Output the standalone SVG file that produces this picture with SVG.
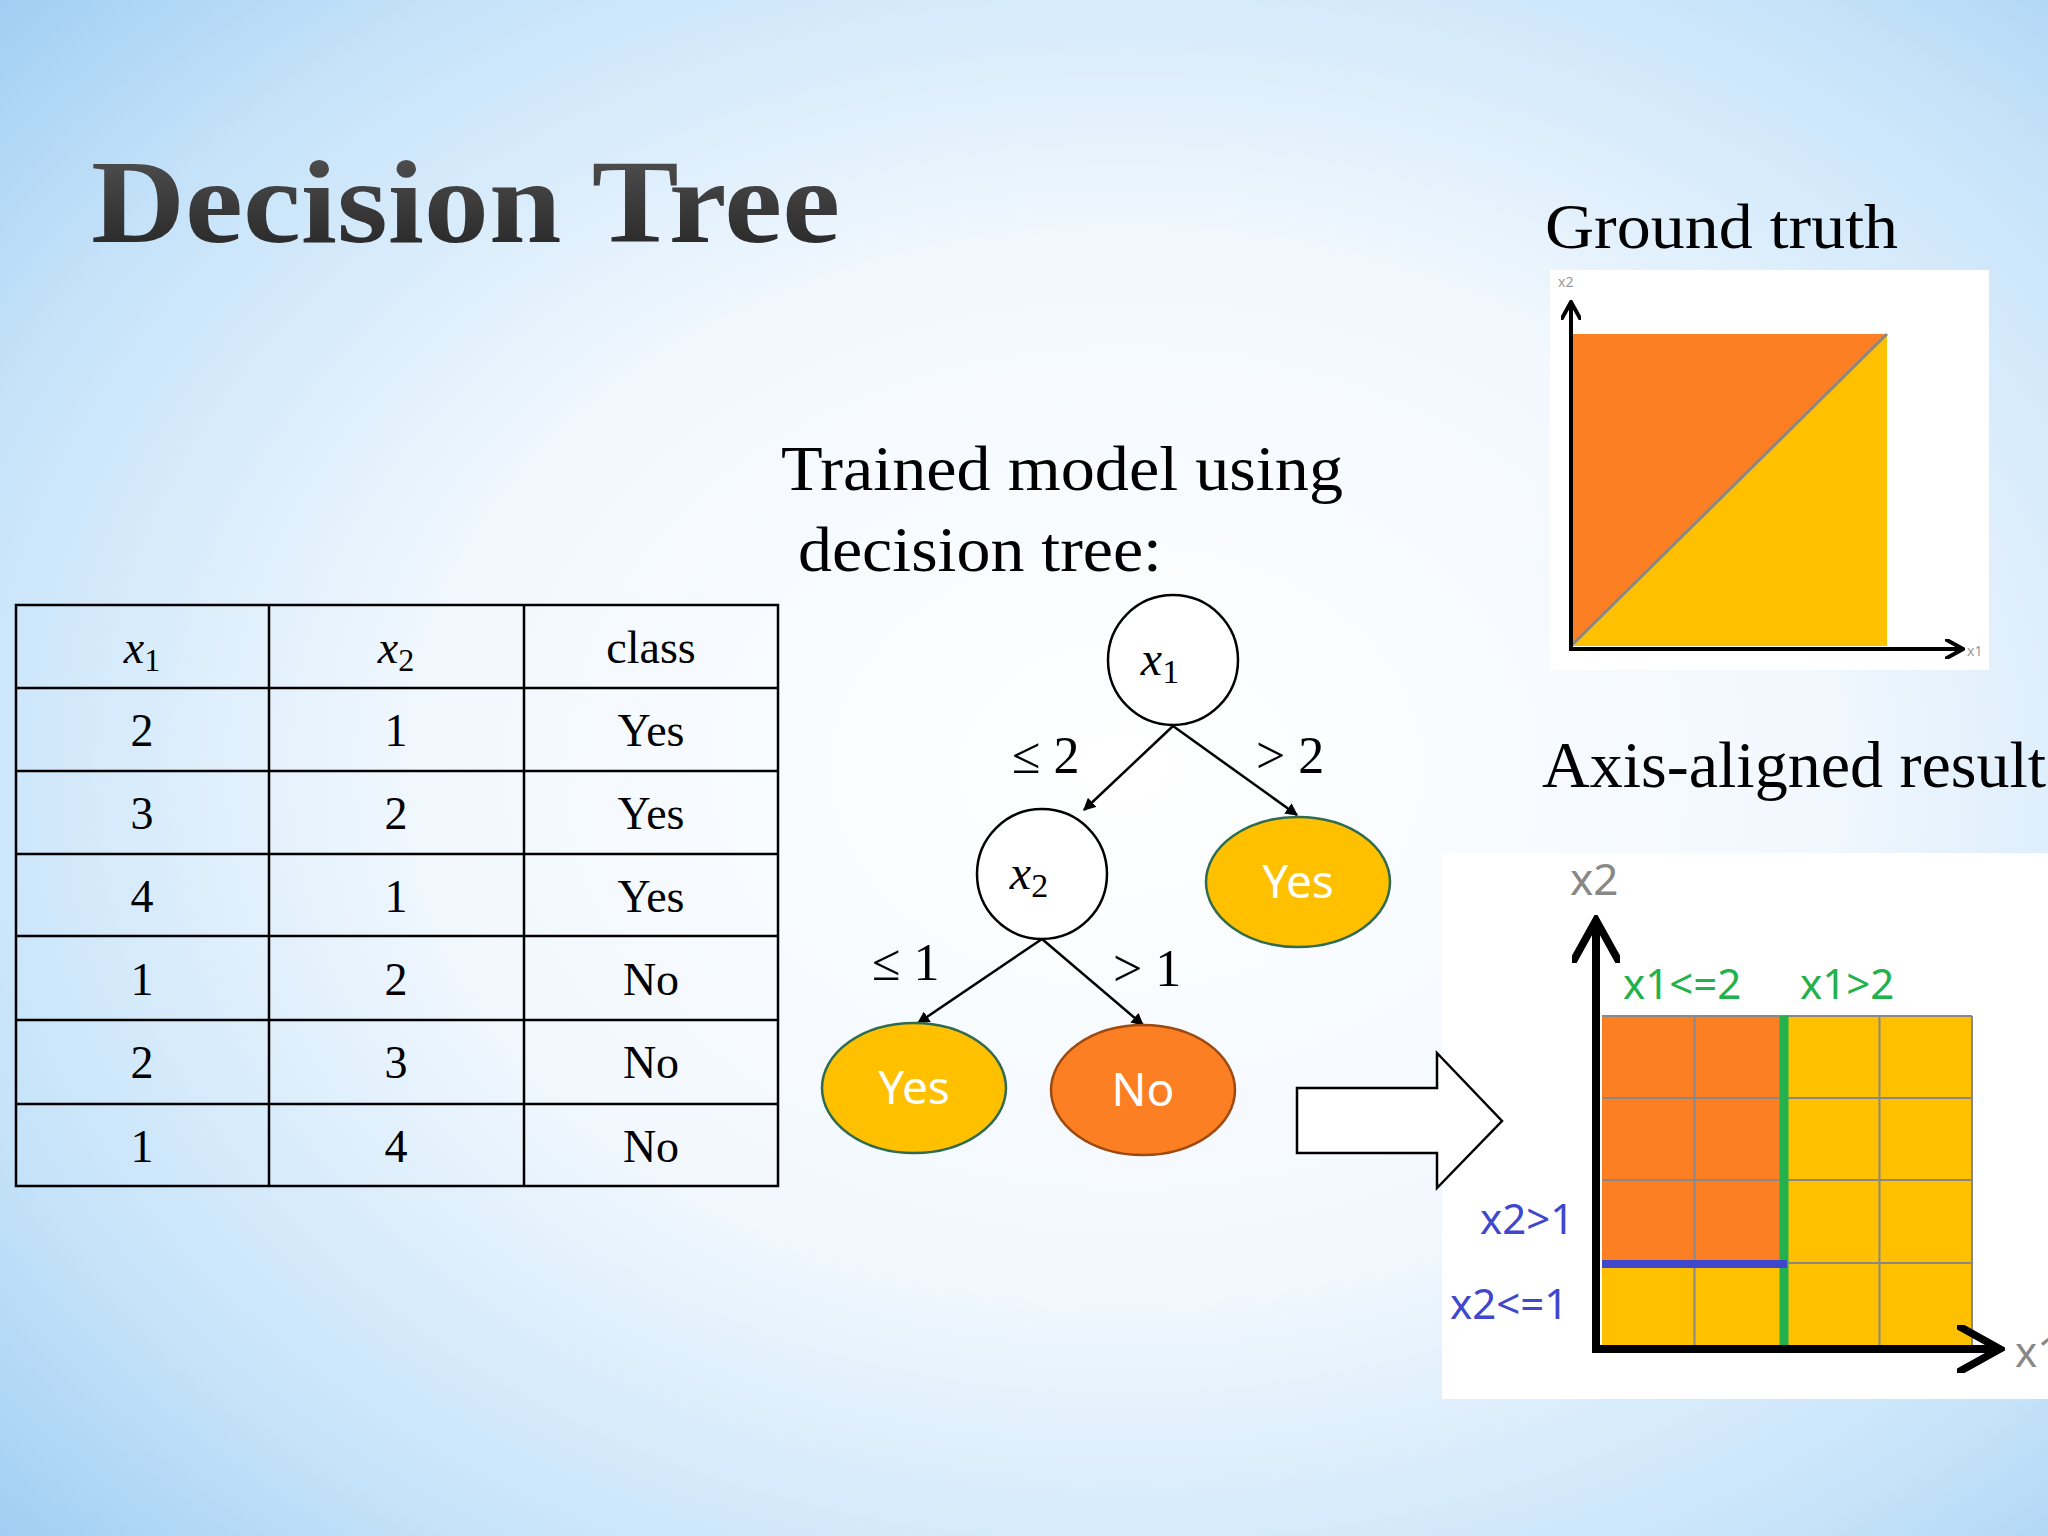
<svg xmlns="http://www.w3.org/2000/svg" width="2048" height="1536" viewBox="0 0 2048 1536">
<defs>
<radialGradient id="bg" cx="0.55" cy="0.5" r="0.75">
<stop offset="0" stop-color="#ffffff"/>
<stop offset="0.45" stop-color="#f2f8fe"/>
<stop offset="0.8" stop-color="#c4e2f9"/>
<stop offset="1" stop-color="#9fcdf2"/>
</radialGradient>
<linearGradient id="tg" x1="0" y1="0" x2="0" y2="1">
<stop offset="0" stop-color="#555"/>
<stop offset="1" stop-color="#222"/>
</linearGradient>
<marker id="ah" viewBox="0 0 10 10" refX="9" refY="5" markerWidth="5" markerHeight="5" orient="auto">
<path d="M0,0 L10,5 L0,10 z" fill="#000"/>
</marker>
<marker id="ax" viewBox="0 0 10 10" refX="8" refY="5" markerWidth="5" markerHeight="5" orient="auto">
<path d="M0,0 L9,5 L0,10" fill="none" stroke="#000" stroke-width="2"/>
</marker>
<marker id="axb" viewBox="0 0 10 10" refX="8" refY="5" markerWidth="6" markerHeight="6" orient="auto">
<path d="M0,0 L9,5 L0,10" fill="none" stroke="#000" stroke-width="1.6"/>
</marker>
</defs>
<style>
.s{font-family:"Liberation Serif","Times New Roman",serif;fill:#000}
.m{font-family:"Liberation Serif",serif;font-style:italic}
.c{font-family:"Noto Sans","Open Sans",sans-serif}
.cell{font-size:46px;text-anchor:middle}
.tl{fill:none;stroke:#000;stroke-width:2.5}
.edge{stroke:#000;stroke-width:2.5;fill:none;marker-end:url(#ah)}
.lbl{font-size:52px}
.leaf{font-size:46px;fill:#fff;text-anchor:middle}
</style>
<rect width="2048" height="1536" fill="url(#bg)"/>
<text x="91" y="242" font-family="Liberation Serif,serif" font-weight="bold" font-size="118" fill="url(#tg)" textLength="749" lengthAdjust="spacingAndGlyphs">Decision Tree</text>

<g id="table">
<rect x="16" y="605" width="762" height="581" class="tl"/>
<path class="tl" d="M16,688H778M16,771H778M16,854H778M16,936H778M16,1020H778M16,1104H778M269,605V1186M524,605V1186"/>
<g class="s cell">
<text x="142" y="663" class="m">x<tspan font-style="normal" font-size="32" dy="8">1</tspan></text>
<text x="396" y="663" class="m">x<tspan font-style="normal" font-size="32" dy="8">2</tspan></text>
<text x="651" y="663">class</text>
<text x="142" y="746">2</text><text x="396" y="746">1</text><text x="651" y="746">Yes</text>
<text x="142" y="829">3</text><text x="396" y="829">2</text><text x="651" y="829">Yes</text>
<text x="142" y="912">4</text><text x="396" y="912">1</text><text x="651" y="912">Yes</text>
<text x="142" y="995">1</text><text x="396" y="995">2</text><text x="651" y="995">No</text>
<text x="142" y="1078">2</text><text x="396" y="1078">3</text><text x="651" y="1078">No</text>
<text x="142" y="1162">1</text><text x="396" y="1162">4</text><text x="651" y="1162">No</text>
</g>
</g>

<text class="s" x="781" y="490" font-size="63" textLength="562" lengthAdjust="spacingAndGlyphs">Trained model using</text>
<text class="s" x="798" y="571" font-size="63" textLength="364" lengthAdjust="spacingAndGlyphs">decision tree:</text>

<g id="connectors">
<line class="edge" x1="1173" y1="726" x2="1084" y2="810"/>
<line class="edge" x1="1173" y1="726" x2="1297" y2="815"/>
<line class="edge" x1="1042" y1="939" x2="918" y2="1023"/>
<line class="edge" x1="1042" y1="939" x2="1143" y2="1025"/>
<text class="s lbl" x="1012" y="773">≤ 2</text>
<text class="s lbl" x="1256" y="773">&gt; 2</text>
<text class="s lbl" x="872" y="980">≤ 1</text>
<text class="s lbl" x="1113" y="986">&gt; 1</text>
</g>
<g id="n_x1"><circle cx="1173" cy="660" r="65" fill="#fff" stroke="#000" stroke-width="2.5"/>
<text class="s m" x="1160" y="675" font-size="48" text-anchor="middle">x<tspan font-style="normal" font-size="34" dy="8">1</tspan></text></g>
<g id="n_x2"><circle cx="1042" cy="874" r="65" fill="#fff" stroke="#000" stroke-width="2.5"/>
<text class="s m" x="1029" y="889" font-size="48" text-anchor="middle">x<tspan font-style="normal" font-size="34" dy="8">2</tspan></text></g>
<g id="n_yes1"><ellipse cx="1298" cy="882" rx="92" ry="65" fill="#ffc000" stroke="#2e6b4f" stroke-width="2.5"/>
<text class="c leaf" x="1298" y="898">Yes</text></g>
<g id="n_yes2"><ellipse cx="914" cy="1088" rx="92" ry="65" fill="#ffc000" stroke="#2e6b4f" stroke-width="2.5"/>
<text class="c leaf" x="914" y="1104">Yes</text></g>
<g id="n_no"><ellipse cx="1143" cy="1090" rx="92" ry="65" fill="#fd7f24" stroke="#9c4a10" stroke-width="2.5"/>
<text class="c leaf" x="1143" y="1106">No</text></g>

<text class="s" x="1545" y="248" font-size="64" textLength="353" lengthAdjust="spacingAndGlyphs">Ground truth</text>
<g id="groundtruth">
<rect x="1550" y="270" width="439" height="400" fill="#fff"/>
<rect x="1571" y="334" width="316" height="312" fill="#fd7f24"/>
<path d="M1571,646L1887,334V646Z" fill="#ffc000"/>
<line x1="1571" y1="646" x2="1887" y2="334" stroke="#888" stroke-width="3"/>
<line x1="1571" y1="649" x2="1571" y2="304" stroke="#000" stroke-width="4" marker-end="url(#ax)"/>
<line x1="1569" y1="649" x2="1961" y2="649" stroke="#000" stroke-width="4" marker-end="url(#ax)"/>
<text class="c" x="1558" y="287" font-size="14" fill="#999">x2</text>
<text class="c" x="1967" y="656" font-size="14" fill="#999">x1</text>
</g>

<text class="s" x="1542" y="787" font-size="66">Axis-aligned result</text>
<g id="result">
<rect x="1442" y="853" width="606" height="546" fill="#fff"/>
<rect x="1602" y="1016" width="370" height="329" fill="#ffc000"/>
<rect x="1602" y="1016" width="185" height="248" fill="#fd7f24"/>
<path d="M1602,1016H1972M1602,1098H1972M1602,1180H1972M1602,1263H1972M1694.5,1016V1345M1787,1016V1345M1879.5,1016V1345M1972,1016V1345" stroke="#888" stroke-width="2" fill="none"/>
<line x1="1784" y1="1016" x2="1784" y2="1345" stroke="#22b14c" stroke-width="9"/>
<line x1="1602" y1="1264" x2="1787" y2="1264" stroke="#3f48cc" stroke-width="8"/>
<line x1="1596" y1="1349" x2="1596" y2="925" stroke="#000" stroke-width="8" marker-end="url(#axb)"/>
<line x1="1592" y1="1349" x2="1995" y2="1349" stroke="#000" stroke-width="8" marker-end="url(#axb)"/>
<text class="c" x="1570" y="895" font-size="44" fill="#888">x2</text>
<text class="c" x="1623" y="999" font-size="42" fill="#22b14c">x1&lt;=2</text>
<text class="c" x="1800" y="999" font-size="42" fill="#22b14c">x1&gt;2</text>
<text class="c" x="1480" y="1234" font-size="42" fill="#3f48cc">x2&gt;1</text>
<text class="c" x="1450" y="1319" font-size="42" fill="#3f48cc">x2&lt;=1</text>
<text class="c" x="2015" y="1367" font-size="42" fill="#888">x1</text>
</g>

<g id="bigarrow"><path d="M1297,1088H1437V1053L1502,1121L1437,1188V1153H1297Z" fill="#fff" stroke="#000" stroke-width="2.5"/></g>
</svg>
